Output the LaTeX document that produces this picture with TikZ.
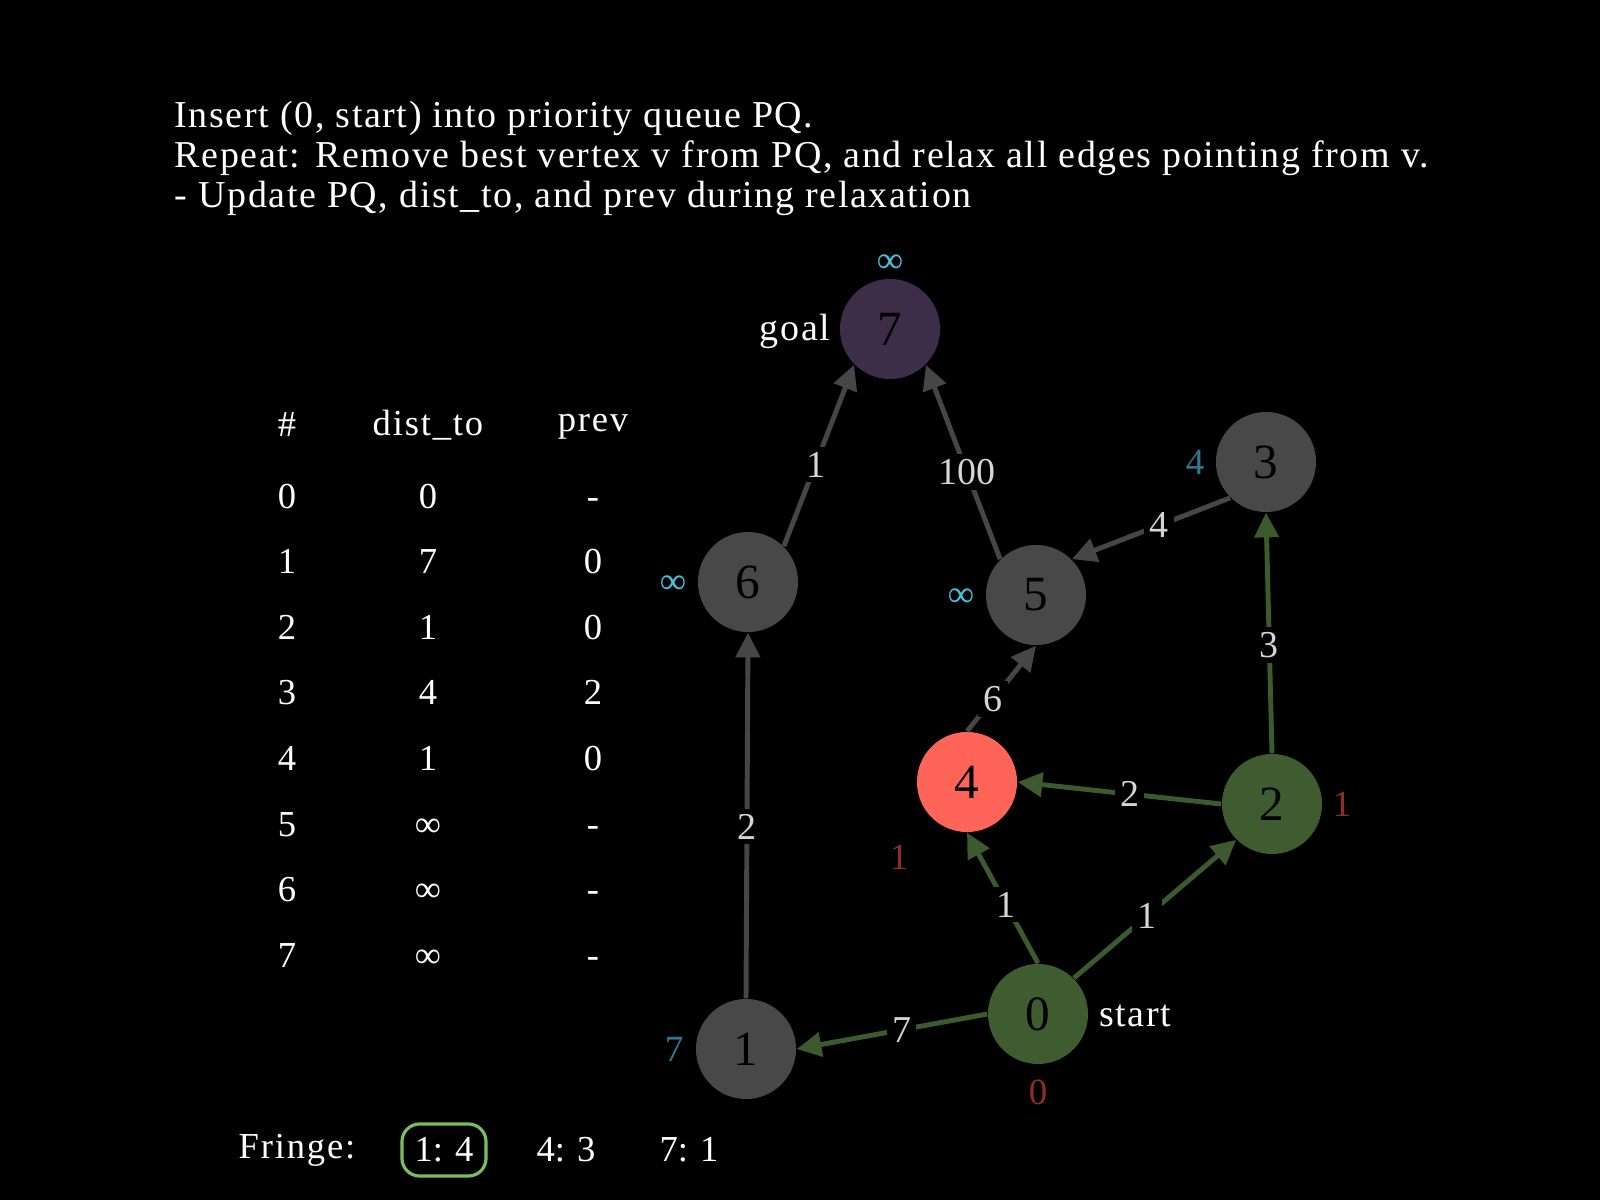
\documentclass[tikz,border=0pt]{standalone}
\usepackage{fontspec}
\setmainfont{Liberation Serif}
\newfontfamily\spacedfont[LetterSpace=4.2]{Liberation Serif}
\newfontfamily\widefont[LetterSpace=5]{Liberation Serif}
\usetikzlibrary{arrows.meta}
\definecolor{vgray}{HTML}{484848}
\definecolor{vgreen}{HTML}{3E5C30}
\definecolor{vred}{HTML}{FF6459}
\definecolor{vpurple}{HTML}{3E2D48}
\definecolor{egray}{HTML}{464646}
\definecolor{egreen}{HTML}{3D5A2E}
\definecolor{lcyan}{HTML}{4AC0DC}
\definecolor{lteal}{HTML}{2E7A8C}
\definecolor{ldred}{HTML}{8F2E26}
\definecolor{elgray}{HTML}{D5D5D5}
\definecolor{fgreen}{HTML}{7DBD62}
\begin{document}
\begin{tikzpicture}[x=0.01cm,y=-0.01cm,
  vtx/.style={circle, minimum size=1.0cm, inner sep=0pt, text=black, font=\fontsize{14}{14}\selectfont},
  grayv/.style={vtx, fill=vgray},
  greenv/.style={vtx, fill=vgreen},
  redv/.style={vtx, fill=vred},
  purplev/.style={vtx, fill=vpurple},
  edgebase/.style={line width=1.4pt, -{Triangle[length=7pt,width=6.8pt]}},
  grayedge/.style={edgebase, draw=egray, fill=egray},
  greenedge/.style={edgebase, draw=egreen, fill=egreen},
  elab/.style={pos=0.45, fill=black, text=elgray, inner sep=1.5pt, font=\fontsize{10.8}{11}\selectfont},
  sidelab/.style={font=\fontsize{10.5}{11}\selectfont, inner sep=0pt},
  whitetxt/.style={text=white, font=\spacedfont\fontsize{10.8}{11}\selectfont, inner sep=0pt},
  tabtxt/.style={text=white, font=\fontsize{10.4}{11}\selectfont, inner sep=0pt, anchor=base},
  tabhead/.style={text=white, font=\widefont\fontsize{10.4}{11}\selectfont, inner sep=0pt}
]
\fill[black] (0,0) rectangle (1600,1200);
\useasboundingbox (0,0) rectangle (1600,1200);

% heading
\node[whitetxt, anchor=base west] (h1) at (174,127) {Insert (0, start) into priority queue PQ.};
\node[whitetxt, anchor=base west] (h2) at (174,167) {Repeat: Remove best vertex v from PQ, and relax all edges pointing from v.};
\node[whitetxt, anchor=base west] (h3) at (174,207) {- Update PQ, dist\_to, and prev during relaxation};

% vertices
\node[purplev] (v7) at (890,329) {7};
\node[grayv] (v6) at (748,582) {6};
\node[grayv] (v5) at (1036,595) {5};
\node[grayv] (v3) at (1266,462) {3};
\node[redv] (v4) at (967,782) {4};
\node[greenv] (v2) at (1272,804) {2};
\node[greenv] (v0) at (1038,1014) {0};
\node[grayv] (v1) at (746,1049) {1};

% edges
\draw[grayedge] (v6.north east) -- node[elab] (e67) {1} (v7.south west);
\draw[grayedge] (v5.north west) -- node[elab] (e57) {100} (v7.south east);
\draw[grayedge] (v3.south west) -- node[elab] (e35) {4} (v5.north east);
\draw[greenedge] (v2.north) -- node[elab] (e23) {3} (v3.south);
\draw[grayedge] (v4.north) -- node[elab, pos=0.38] (e45) {6} (v5.south);
\draw[greenedge] (v2.west) -- node[elab] (e24) {2} (v4.east);
\draw[greenedge] (v0.north) -- node[elab] (e04) {1} (v4.south);
\draw[greenedge] (v0.north east) -- node[elab] (e02) {1} (v2.south west);
\draw[greenedge] (v0.west) -- node[elab] (e01) {7} (v1.east);
\draw[grayedge] (v1.north) -- node[elab, pos=0.47] (e16) {2} (v6.south);

% side labels
\node[sidelab, text=lcyan] (d7) at (890,264) {∞};
\node[whitetxt] (goal) at (795,331) {goal};
\node[sidelab, text=lcyan] (d6) at (673,585) {∞};
\node[sidelab, text=lcyan] (d5) at (961,598) {∞};
\node[sidelab, text=lteal] (d3) at (1195,462) {4};
\node[sidelab, text=ldred] (d2) at (1342,804) {1};
\node[sidelab, text=ldred] (d4) at (899,857) {1};
\node[sidelab, text=ldred] (d0) at (1038,1092) {0};
\node[sidelab, text=lteal] (d1) at (674,1049) {7};
\node[whitetxt] (start) at (1135,1016) {start};

% table
\node[tabhead] (th1) at (287,425) {\#};
\node[tabhead] (th2) at (428,425) {dist\_to};
\node[tabhead] (th3) at (593,427) {prev};
\foreach \i/\d/\p [count=\k from 0] in {0/0/-,1/7/0,2/1/0,3/4/2,4/1/0,5/∞/-,6/∞/-,7/∞/-}{
  \node[tabtxt] (r\k a) at (287,{508+65.6*\k}) {\i};
  \node[tabtxt] (r\k b) at (428,{508+65.6*\k}) {\d};
  \node[tabtxt] (r\k c) at (593,{508+65.6*\k}) {\p};
}

% fringe
\node[tabhead, anchor=base] (fr) at (297,1158) {Fringe:};
\node[tabtxt, anchor=center, draw=fgreen, line width=0.9pt, rounded corners=5pt, minimum width=0.84cm, minimum height=0.52cm] (f1) at (444,1150) {1: 4};
\node[tabtxt, anchor=center] (f2) at (566,1150) {4: 3};
\node[tabtxt, anchor=center] (f3) at (689,1150) {7: 1};
\end{tikzpicture}
\end{document}
